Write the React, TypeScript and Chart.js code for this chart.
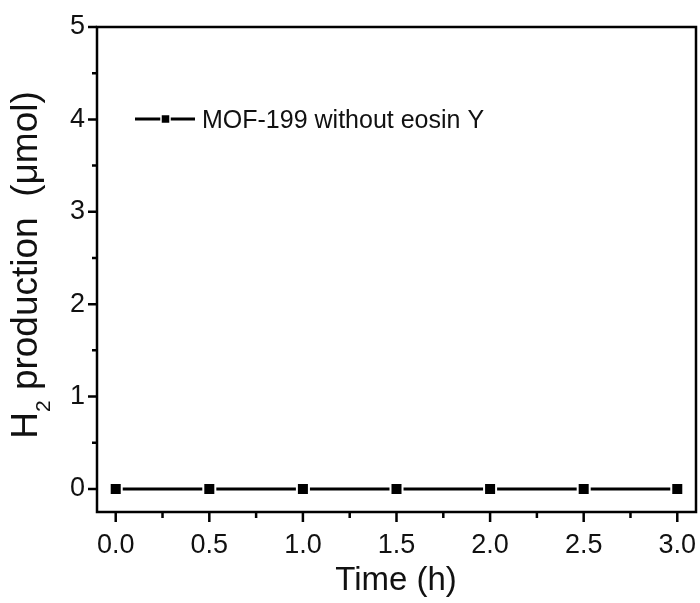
import React, { useEffect, useRef } from "react";
import { Chart, registerables } from "chart.js";

Chart.register(...registerables);

const timeH = [0, 0.5, 1.0, 1.5, 2.0, 2.5, 3.0];
const h2Production = [0, 0, 0, 0, 0, 0, 0];
const seriesName = "MOF-199 without eosin Y";
const xTickValues = [0, 0.5, 1.0, 1.5, 2.0, 2.5, 3.0];
const yTickValues = [0, 1, 2, 3, 4, 5];
const xTitle = "Time (h)";
const yTitleMain = "H";
const yTitleSub = "2";
const yTitleRest = " production  (\u03bcmol)";

const FONT = '"Liberation Sans", Arial, sans-serif';

const framePlugin = {
  id: "framePlugin",
  afterDraw(chart: any) {
    const ctx = chart.ctx;
    const a = chart.chartArea;
    const xs = chart.scales.x;
    const ys = chart.scales.y;
    ctx.save();
    ctx.strokeStyle = "#000";
    ctx.lineWidth = 2.5;
    ctx.strokeRect(a.left, a.top, a.right - a.left, a.bottom - a.top);
    // major + minor ticks
    ctx.beginPath();
    for (let i = 0; i < xTickValues.length; i++) {
      const px = xs.getPixelForValue(xTickValues[i]);
      ctx.moveTo(px, a.bottom);
      ctx.lineTo(px, a.bottom + 10);
      if (i < xTickValues.length - 1) {
        const pm = xs.getPixelForValue((xTickValues[i] + xTickValues[i + 1]) / 2);
        ctx.moveTo(pm, a.bottom);
        ctx.lineTo(pm, a.bottom + 6);
      }
    }
    for (let i = 0; i < yTickValues.length; i++) {
      const py = ys.getPixelForValue(yTickValues[i]);
      ctx.moveTo(a.left, py);
      ctx.lineTo(a.left - 9, py);
      if (i < yTickValues.length - 1) {
        const pm = ys.getPixelForValue((yTickValues[i] + yTickValues[i + 1]) / 2);
        ctx.moveTo(a.left, pm);
        ctx.lineTo(a.left - 5, pm);
      }
    }
    ctx.stroke();

    // legend
    const ly = 119;
    ctx.lineWidth = 3;
    ctx.beginPath();
    ctx.moveTo(135, ly);
    ctx.lineTo(195, ly);
    ctx.stroke();
    ctx.fillStyle = "#000";
    ctx.strokeStyle = "#fff";
    ctx.lineWidth = 1.5;
    ctx.fillRect(161, ly - 4.5, 9, 9);
    ctx.strokeRect(161, ly - 4.5, 9, 9);
    ctx.fillStyle = "#111";
    ctx.font = `25px ${FONT}`;
    ctx.textBaseline = "alphabetic";
    ctx.textAlign = "left";
    ctx.fillText(seriesName, 202, 128);

    // x title
    ctx.font = `33px ${FONT}`;
    ctx.textAlign = "center";
    ctx.fillText(xTitle, 396, 590);

    // y title
    ctx.translate(37, 265);
    ctx.rotate(-Math.PI / 2);
    const bigFont = `37px ${FONT}`;
    const subFont = `21px ${FONT}`;
    ctx.font = bigFont;
    const w1 = ctx.measureText(yTitleMain).width;
    const w3 = ctx.measureText(yTitleRest).width;
    ctx.font = subFont;
    const w2 = ctx.measureText(yTitleSub).width;
    const total = w1 + w2 + w3;
    let x0 = -total / 2;
    ctx.textAlign = "left";
    ctx.font = bigFont;
    ctx.fillText(yTitleMain, x0, 0);
    x0 += w1;
    ctx.font = subFont;
    ctx.fillText(yTitleSub, x0, 13);
    x0 += w2;
    ctx.font = bigFont;
    ctx.fillText(yTitleRest, x0, 0);
    ctx.restore();
  },
};

export default function App() {
  const ref = useRef<HTMLCanvasElement | null>(null);
  useEffect(() => {
    document.body.style.margin = "0";
    const canvas = ref.current!;
    const chart = new Chart(canvas, {
      type: "line",
      data: {
        datasets: [
          {
            label: seriesName,
            data: timeH.map((t, i) => ({ x: t, y: h2Production[i] })),
            borderColor: "#000",
            borderWidth: 3,
            pointStyle: "rect",
            pointRadius: 8.5,
            pointBackgroundColor: "#000",
            pointBorderColor: "#fff",
            pointBorderWidth: 2,
            fill: false,
            tension: 0,
          },
        ],
      },
      options: {
        animation: false,
        responsive: false,
        devicePixelRatio: 1,
        layout: { autoPadding: false, padding: { top: 27, right: 4, left: 0, bottom: 0 } },
        plugins: { legend: { display: false }, tooltip: { enabled: false } },
        scales: {
          x: {
            type: "linear",
            min: -0.1,
            max: 3.1,
            afterBuildTicks: (s: any) => {
              s.ticks = xTickValues.map((v) => ({ value: v }));
            },
            afterFit: (s: any) => {
              s.height = 91;
              s.paddingLeft = 0;
              s.paddingRight = 0;
            },
            ticks: {
              callback: (v: any) => Number(v).toFixed(1),
              color: "#111",
              font: { family: FONT, size: 27 },
              padding: 0,
              maxRotation: 0,
              autoSkip: false,
            },
            grid: {
              drawOnChartArea: false,
              drawTicks: true,
              tickLength: 17,
              tickColor: "rgba(0,0,0,0)",
            },
            border: { display: false },
          },
          y: {
            type: "linear",
            min: -0.25,
            max: 5,
            afterBuildTicks: (s: any) => {
              s.ticks = yTickValues.map((v) => ({ value: v }));
            },
            afterFit: (s: any) => {
              s.width = 97;
              s.paddingTop = 0;
              s.paddingBottom = 0;
            },
            ticks: {
              callback: (v: any) => String(v),
              color: "#111",
              font: { family: FONT, size: 27 },
              padding: 0,
              autoSkip: false,
            },
            grid: {
              drawOnChartArea: false,
              drawTicks: true,
              tickLength: 12,
              tickColor: "rgba(0,0,0,0)",
            },
            border: { display: false },
          },
        },
      },
      plugins: [framePlugin],
    });
    return () => chart.destroy();
  }, []);
  return (
    <div style={{ width: 700, height: 603 }}>
      <canvas ref={ref} width={700} height={603} style={{ display: "block" }} />
    </div>
  );
}
